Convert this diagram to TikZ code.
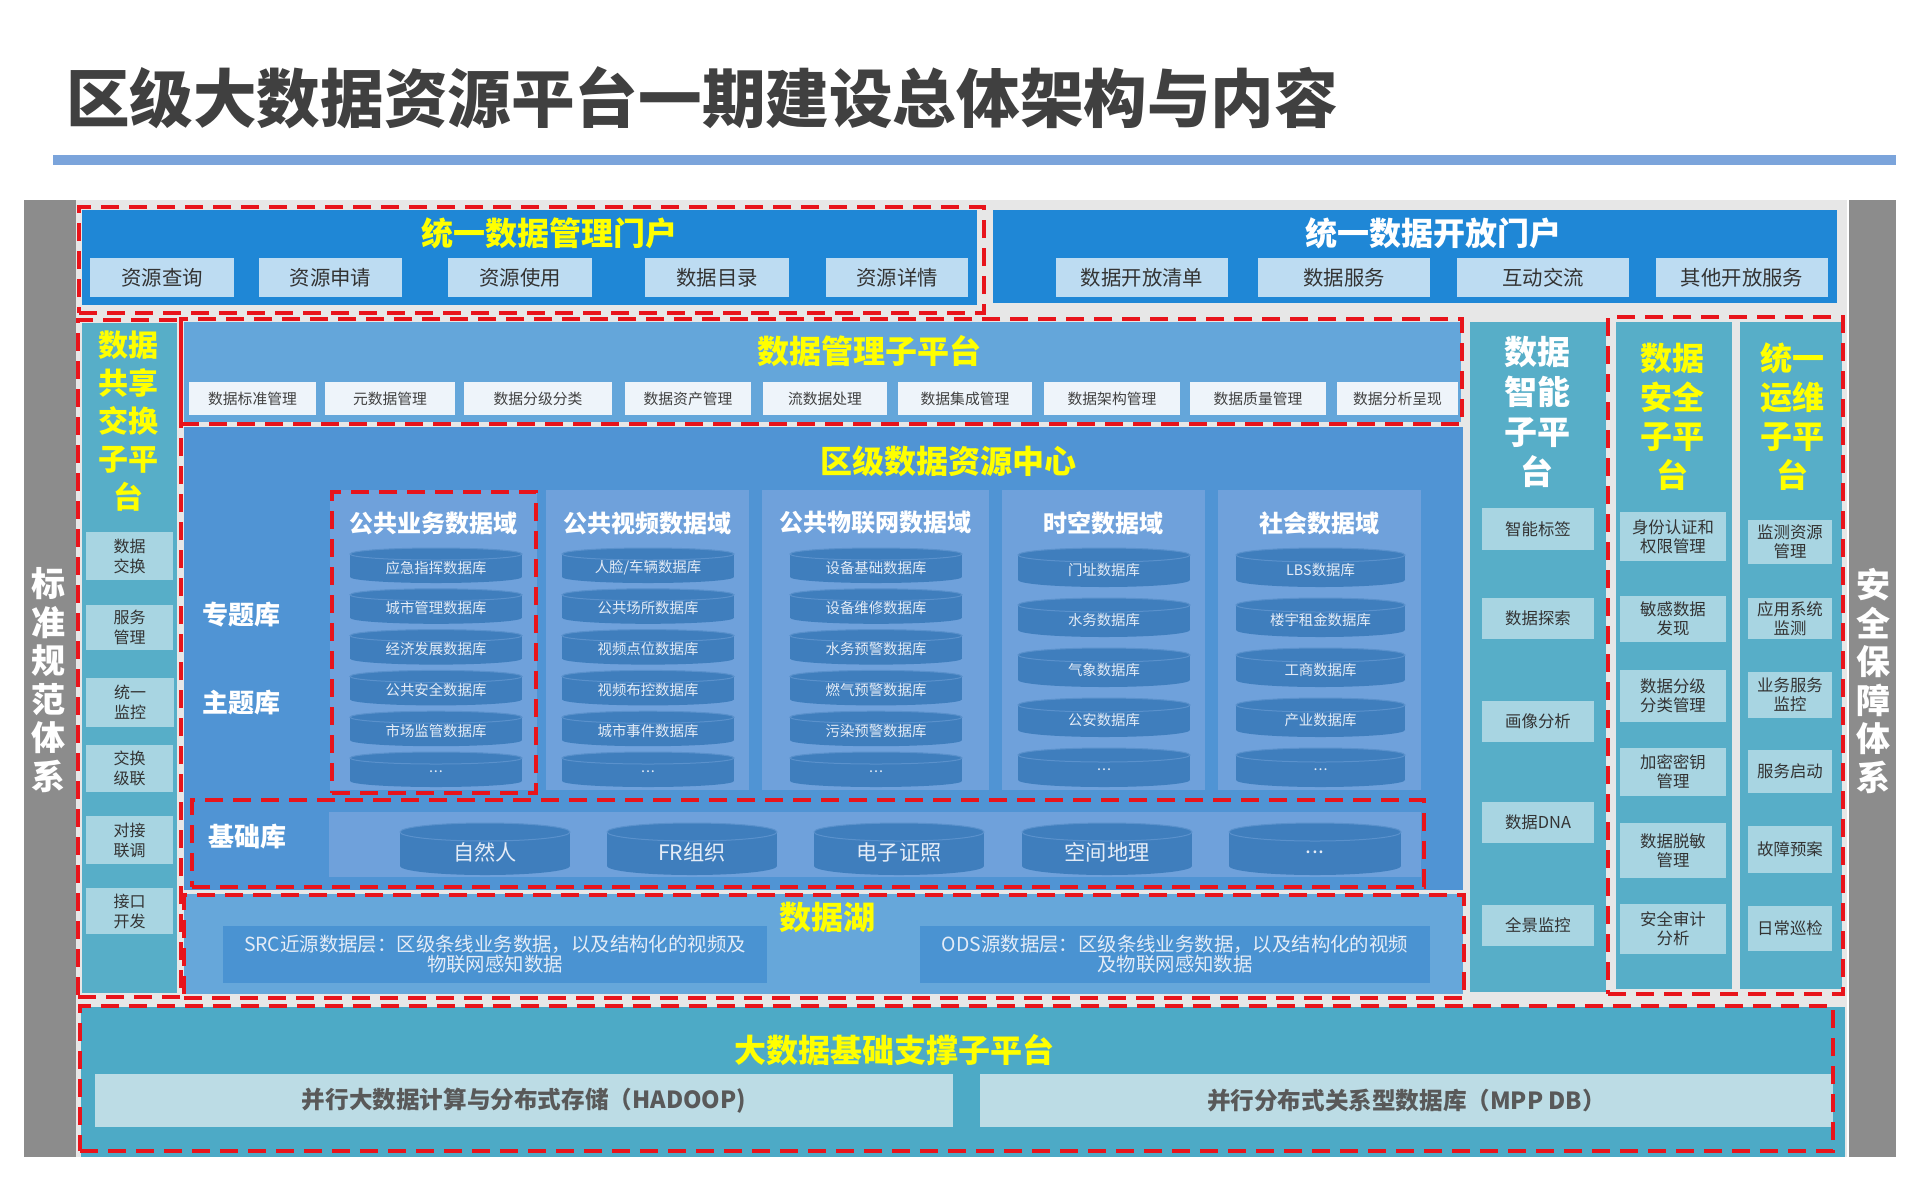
\documentclass[tikz,border=0pt]{standalone}
\usepackage{fontspec}
\setmainfont{Noto Sans CJK SC}
\definecolor{titc}{HTML}{404040}
\definecolor{rulec}{HTML}{7BA4DB}
\definecolor{grayb}{HTML}{8C8C8C}
\definecolor{bgl}{HTML}{E7E7E7}
\definecolor{portal}{HTML}{1F87D6}
\definecolor{portsub}{HTML}{BDDCF2}
\definecolor{mgmt}{HTML}{64A6DA}
\definecolor{mgmtsub}{HTML}{EEF4FA}
\definecolor{cenc}{HTML}{5094D4}
\definecolor{domc}{HTML}{6FA1DB}
\definecolor{cylc}{HTML}{3F7EBD}
\definecolor{cylr}{HTML}{5A91CC}
\definecolor{cyltxt}{HTML}{E4ECF7}
\definecolor{lakec}{HTML}{66A7DA}
\definecolor{lakesub}{HTML}{4A93D2}
\definecolor{tealc}{HTML}{57AEC8}
\definecolor{tealsub}{HTML}{A8D5E2}
\definecolor{botc}{HTML}{4DAAC6}
\definecolor{botsub}{HTML}{BCDCE5}
\definecolor{redd}{HTML}{E8141B}
\definecolor{yel}{HTML}{FFFF00}
\definecolor{darkt}{HTML}{333333}
\definecolor{bott}{HTML}{595959}
\newcommand\fsz[2]{\fontsize{#1}{#2}\selectfont}
\newcommand\mydots{.\kern0.5pt.\kern0.5pt.}
\newcommand\bx[7]{\node[#6, minimum width={(#4-#2)*0.5pt}, minimum height={(#5-#3)*0.5pt}] (#1) at ({(#2+#4)/2},{(#3+#5)/2}) {#7};}
\newcommand\mycyl[8]{%
 \fill[cylc] (#2,{#3+#6}) rectangle (#4,{#5-#6});
 \fill[cylc] ({(#2+#4)/2},{#5-#6}) ellipse [x radius={(#4-#2)/2}, y radius={#6}];
 \fill[cylc] ({(#2+#4)/2},{#3+#6}) ellipse [x radius={(#4-#2)/2}, y radius={#6}];
 \draw[cylr, line width=0.5pt] ({(#2+#4)/2},{#3+#6}) ellipse [x radius={(#4-#2)/2}, y radius={#6}];
 \node[#7] (#1) at ({(#2+#4)/2},{(#3+#5)/2+#6*0.35}) {#8};}
\begin{document}
\begin{tikzpicture}[x=0.5pt,y=-0.5pt,
  every node/.style={inner sep=0pt,outer sep=0pt,align=center},
  rdash/.style={draw=redd,line width=2.2pt,dash pattern=on 9pt off 5pt},
  fT/.style={font={\fsz{16pt}{19pt}\bfseries}},
  fP/.style={font={\fsz{10.2pt}{12pt}}, text=darkt},
  fColT/.style={font={\fsz{15pt}{19pt}\bfseries}, text=yel},
  fSide/.style={font={\fsz{8pt}{10pt}}, text=darkt},
  fMg/.style={font={\fsz{7.4pt}{9pt}}, text=titc},
  fDom/.style={font={\fsz{12pt}{14pt}\bfseries}, text=white},
  fLib/.style={font={\fsz{13pt}{15pt}\bfseries}, text=white},
  cylS/.style={font={\fsz{7.2pt}{9pt}}, text=cyltxt},
  cylB/.style={font={\fsz{10.6pt}{12pt}}, text=cyltxt},
  fLake/.style={font={\fsz{9.7pt}{10pt}}, text=cyltxt},
  fRT/.style={font={\fsz{16.5pt}{20pt}\bfseries}},
  fRI/.style={font={\fsz{8.2pt}{9.5pt}}, text=darkt},
  fBot/.style={font={\fsz{11.8pt}{13pt}\bfseries}, text=bott},
  fGray/.style={font={\fsz{17pt}{19.3pt}\bfseries}, text=white}]
\useasboundingbox (0,0) rectangle (1920,1200);
\fill[white] (0,0) rectangle (1920,1200);
% title and rule
\node[anchor=west, font={\fsz{31.8pt}{36pt}\bfseries}, text=titc] (title) at (66,98) {区级大数据资源平台一期建设总体架构与内容};
\fill[rulec] (53,155) rectangle (1896,165);
% background and side bars
\fill[bgl] (76,200) rectangle (1847,1157);
\bx{lbar}{24}{200}{76}{1157}{fill=grayb}{}
\bx{rbar}{1849}{200}{1896}{1157}{fill=grayb}{}
\node[fGray] (lbart) at (49,680) {标\\准\\规\\范\\体\\系};
\node[fGray] (rbart) at (1873,681) {安\\全\\保\\障\\体\\系};
% top-left portal
\bx{pm}{82}{210}{977}{305}{fill=portal}{}
\node[fT, text=yel] (pmt) at (549,233) {统一数据管理门户};
\bx{pm1}{90}{258}{234}{297}{fill=portsub,fP}{资源查询}
\bx{pm2}{259}{258}{402}{297}{fill=portsub,fP}{资源申请}
\bx{pm3}{448}{258}{592}{297}{fill=portsub,fP}{资源使用}
\bx{pm4}{645}{258}{789}{297}{fill=portsub,fP}{数据目录}
\bx{pm5}{826}{258}{968}{297}{fill=portsub,fP}{资源详情}
% top-right portal
\bx{po}{993}{210}{1837}{303}{fill=portal}{}
\node[fT, text=white] (pot) at (1433,233) {统一数据开放门户};
\bx{po1}{1056}{258}{1228}{297}{fill=portsub,fP}{数据开放清单}
\bx{po2}{1258}{258}{1430}{297}{fill=portsub,fP}{数据服务}
\bx{po3}{1457}{258}{1629}{297}{fill=portsub,fP}{互动交流}
\bx{po4}{1656}{258}{1828}{297}{fill=portsub,fP}{其他开放服务}
% left column
\bx{lc}{82}{323}{177}{993}{fill=tealc}{}
\node[fColT] (lct) at (128,421) {数据\\共享\\交换\\子平\\台};
\bx{lc1}{86}{532}{173}{580}{fill=tealsub,fSide}{数据\\交换}
\bx{lc2}{86}{605}{173}{650}{fill=tealsub,fSide}{服务\\管理}
\bx{lc3}{86}{678}{174}{727}{fill=tealsub,fSide}{统一\\监控}
\bx{lc4}{86}{745}{173}{792}{fill=tealsub,fSide}{交换\\级联}
\bx{lc5}{86}{816}{173}{864}{fill=tealsub,fSide}{对接\\联调}
\bx{lc6}{86}{888}{173}{934}{fill=tealsub,fSide}{接口\\开发}
% data management
\bx{mg}{184}{322}{1461}{422}{fill=mgmt}{}
\node[fT, text=yel] (mgt) at (869,351) {数据管理子平台};
\bx{mg1}{189}{382}{316}{415}{fill=mgmtsub,fMg}{数据标准管理}
\bx{mg2}{325}{382}{455}{415}{fill=mgmtsub,fMg}{元数据管理}
\bx{mg3}{464}{382}{612}{415}{fill=mgmtsub,fMg}{数据分级分类}
\bx{mg4}{625}{382}{751}{415}{fill=mgmtsub,fMg}{数据资产管理}
\bx{mg5}{763}{382}{887}{415}{fill=mgmtsub,fMg}{流数据处理}
\bx{mg6}{898}{382}{1032}{415}{fill=mgmtsub,fMg}{数据集成管理}
\bx{mg7}{1044}{382}{1180}{415}{fill=mgmtsub,fMg}{数据架构管理}
\bx{mg8}{1190}{382}{1326}{415}{fill=mgmtsub,fMg}{数据质量管理}
\bx{mg9}{1337}{382}{1458}{415}{fill=mgmtsub,fMg}{数据分析呈现}
% resource center
\bx{rc}{184}{427}{1463}{890}{fill=cenc}{}
\node[fT, text=yel] (rct) at (948,461) {区级数据资源中心};
\node[fLib] (zt) at (241,615) {专题库};
\node[fLib] (mt) at (241,703) {主题库};
\bx{d1}{330}{490}{537}{790}{fill=domc}{}
\bx{d2}{546}{490}{749}{790}{fill=domc}{}
\bx{d3}{762}{490}{989}{790}{fill=domc}{}
\bx{d4}{1002}{490}{1205}{790}{fill=domc}{}
\bx{d5}{1218}{490}{1421}{790}{fill=domc}{}
\node[fDom] (d1t) at (433,523) {公共业务数据域};
\node[fDom] (d2t) at (647,523) {公共视频数据域};
\node[fDom] (d3t) at (875,523) {公共物联网数据域};
\node[fDom] (d4t) at (1103,523) {时空数据域};
\node[fDom] (d5t) at (1319,523) {社会数据域};
\foreach \t [count=\i, evaluate=\i as \yt using 548+(\i-1)*40.8, evaluate=\i as \yb using 583+(\i-1)*40.8] in {应急指挥数据库,城市管理数据库,经济发展数据库,公共安全数据库,市场监管数据库,\mydots}
  {\mycyl{ca\i}{350}{\yt}{522}{\yb}{6}{cylS}{\t}}
\foreach \t [count=\i, evaluate=\i as \yt using 548+(\i-1)*40.8, evaluate=\i as \yb using 583+(\i-1)*40.8] in {人脸/车辆数据库,公共场所数据库,视频点位数据库,视频布控数据库,城市事件数据库,\mydots}
  {\mycyl{cb\i}{562}{\yt}{734}{\yb}{6}{cylS}{\t}}
\foreach \t [count=\i, evaluate=\i as \yt using 548+(\i-1)*40.8, evaluate=\i as \yb using 583+(\i-1)*40.8] in {设备基础数据库,设备维修数据库,水务预警数据库,燃气预警数据库,污染预警数据库,\mydots}
  {\mycyl{cc\i}{790}{\yt}{962}{\yb}{6}{cylS}{\t}}
\foreach \t [count=\i, evaluate=\i as \yt using 548+(\i-1)*50, evaluate=\i as \yb using 587+(\i-1)*50] in {门址数据库,水务数据库,气象数据库,公安数据库,\mydots}
  {\mycyl{cd\i}{1018}{\yt}{1190}{\yb}{7}{cylS}{\t}}
\foreach \t [count=\i, evaluate=\i as \yt using 548+(\i-1)*50, evaluate=\i as \yb using 587+(\i-1)*50] in {LBS数据库,楼宇租金数据库,工商数据库,产业数据库,\mydots}
  {\mycyl{ce\i}{1236}{\yt}{1405}{\yb}{7}{cylS}{\t}}
% base library
\bx{bl}{329}{812}{1421}{877}{fill=domc}{}
\node[fLib] (blt) at (247,837) {基础库};
\mycyl{b1}{400}{823}{570}{875}{9}{cylB}{自然人}
\mycyl{b2}{607}{823}{777}{875}{9}{cylB}{FR组织}
\mycyl{b3}{814}{823}{984}{875}{9}{cylB}{电子证照}
\mycyl{b4}{1022}{823}{1192}{875}{9}{cylB}{空间地理}
\mycyl{b5}{1229}{823}{1401}{875}{9}{cylB}{\mydots}
% data lake
\bx{lk}{184}{894}{1463}{994}{fill=lakec}{}
\bx{lk1}{223}{926}{767}{983}{fill=lakesub,fLake}{SRC近源数据层：区级条线业务数据，以及结构化的视频及\\物联网感知数据}
\bx{lk2}{920}{926}{1430}{983}{fill=lakesub,fLake}{ODS源数据层：区级条线业务数据，以及结构化的视频\\及物联网感知数据}
\node[fT, text=yel] (lkt) at (827,917) {数据湖};
% intelligence column
\bx{ic}{1470}{322}{1606}{992}{fill=tealc}{}
\node[fRT, text=white] (ict) at (1537,412) {数据\\智能\\子平\\台};
\bx{ic1}{1482}{508}{1594}{550}{fill=tealsub,fRI}{智能标签}
\bx{ic2}{1482}{598}{1594}{639}{fill=tealsub,fRI}{数据探索}
\bx{ic3}{1482}{701}{1594}{742}{fill=tealsub,fRI}{画像分析}
\bx{ic4}{1482}{802}{1594}{843}{fill=tealsub,fRI}{数据DNA}
\bx{ic5}{1482}{905}{1594}{946}{fill=tealsub,fRI}{全景监控}
% security column
\bx{sc}{1616}{322}{1732}{989}{fill=tealc}{}
\node[fRT, text=yel, font={\fsz{16pt}{19.5pt}\bfseries}] (sct) at (1672,417) {数据\\安全\\子平\\台};
\bx{sc1}{1620}{512}{1726}{561}{fill=tealsub,fRI}{身份认证和\\权限管理}
\bx{sc2}{1620}{596}{1726}{642}{fill=tealsub,fRI}{敏感数据\\发现}
\bx{sc3}{1620}{670}{1726}{722}{fill=tealsub,fRI}{数据分级\\分类管理}
\bx{sc4}{1620}{748}{1726}{796}{fill=tealsub,fRI}{加密密钥\\管理}
\bx{sc5}{1620}{823}{1726}{878}{fill=tealsub,fRI}{数据脱敏\\管理}
\bx{sc6}{1620}{904}{1726}{954}{fill=tealsub,fRI}{安全审计\\分析}
% ops column
\bx{oc}{1740}{322}{1842}{989}{fill=tealc}{}
\node[fRT, text=yel, font={\fsz{16pt}{19.5pt}\bfseries}] (oct) at (1792,417) {统一\\运维\\子平\\台};
\bx{oc1}{1748}{520}{1832}{564}{fill=tealsub,fRI}{监测资源\\管理}
\bx{oc2}{1748}{598}{1832}{639}{fill=tealsub,fRI}{应用系统\\监测}
\bx{oc3}{1748}{672}{1832}{718}{fill=tealsub,fRI}{业务服务\\监控}
\bx{oc4}{1748}{750}{1832}{793}{fill=tealsub,fRI}{服务启动}
\bx{oc5}{1748}{826}{1832}{873}{fill=tealsub,fRI}{故障预案}
\bx{oc6}{1748}{906}{1832}{951}{fill=tealsub,fRI}{日常巡检}
% bottom platform
\bx{bt}{81}{1007}{1845}{1157}{fill=botc}{}
\node[fT, text=yel] (btt) at (894,1050) {大数据基础支撑子平台};
\bx{bt1}{95}{1074}{953}{1127}{fill=botsub,fBot}{并行大数据计算与分布式存储（HADOOP)}
\bx{bt2}{980}{1074}{1833}{1127}{fill=botsub,fBot}{并行分布式关系型数据库（MPP DB）}
% red dashed frames
\bx{r1}{79}{207}{984}{313}{rdash}{}
\bx{r2}{78}{320}{181}{997}{rdash}{}
\bx{r3}{181}{319}{1462}{424}{rdash}{}
\bx{r4}{332}{492}{536}{793}{rdash}{}
\bx{r5}{192}{800}{1424}{887}{rdash}{}
\bx{r6}{184}{895}{1464}{998}{rdash}{}
\bx{r7}{1608}{317}{1843}{994}{rdash}{}
\bx{r8}{80}{1006}{1833}{1151}{rdash}{}
\end{tikzpicture}
\end{document}
